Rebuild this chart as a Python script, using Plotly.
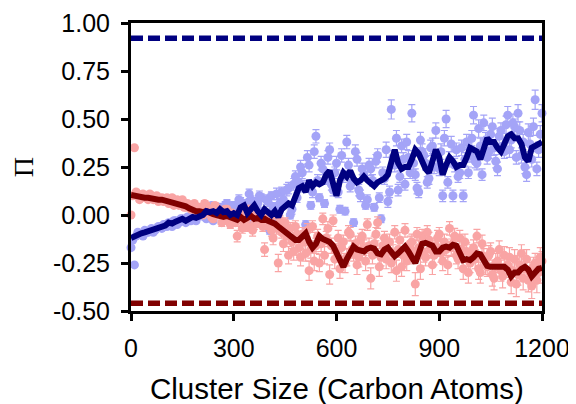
import plotly.graph_objects as go

# ---------------- data ----------------
line_x = list(range(0, 1201, 10))
blue_line = [
    -0.12, -0.11, -0.10, -0.095, -0.09, -0.085, -0.08, -0.075, -0.07, -0.06,
    -0.055, -0.04, -0.045, -0.035, -0.03, -0.02, -0.03, -0.02, -0.01, -0.015,
    -0.01, 0.0, 0.02, 0.015, 0.02, 0.01, 0.03, 0.015, 0.02, 0.0,
    0.01, 0.0, 0.04, 0.05, 0.01, 0.03, 0.05, 0.02, 0.0, 0.03,
    0.01, 0.0, 0.02, -0.01, 0.03, 0.05, 0.06, 0.05, 0.09, 0.14,
    0.15, 0.12, 0.18, 0.15, 0.17, 0.16, 0.17, 0.21, 0.23, 0.17,
    0.10, 0.18, 0.22, 0.20, 0.23, 0.19, 0.17, 0.18, 0.20, 0.18,
    0.16, 0.15, 0.17, 0.18, 0.19, 0.21, 0.27, 0.34, 0.27, 0.24,
    0.25, 0.25, 0.29, 0.34, 0.32, 0.27, 0.24, 0.22, 0.27, 0.34,
    0.30, 0.21, 0.26, 0.30, 0.28, 0.25, 0.26, 0.26, 0.30, 0.35,
    0.34, 0.33, 0.29, 0.35, 0.40, 0.38, 0.38, 0.35, 0.33, 0.37,
    0.41, 0.42, 0.40, 0.40, 0.37, 0.30, 0.28, 0.35, 0.36, 0.37,
    0.38,
]
red_line = [
    0.105, 0.10, 0.095, 0.095, 0.09, 0.09, 0.085, 0.085, 0.08, 0.08,
    0.075, 0.07, 0.07, 0.06, 0.055, 0.05, 0.045, 0.035, 0.025, 0.02,
    0.02, 0.015, 0.02, 0.01, 0.005, 0.0, -0.005, -0.01, -0.005, -0.01,
    -0.02, -0.025, -0.01, -0.025, -0.015, -0.005, -0.02, -0.015, -0.025, -0.02,
    -0.03, -0.035, -0.045, -0.06, -0.075, -0.085, -0.10, -0.12, -0.13, -0.13,
    -0.115, -0.095, -0.14, -0.17, -0.15, -0.11, -0.125, -0.13, -0.14, -0.16,
    -0.20, -0.24, -0.27, -0.23, -0.19, -0.165, -0.18, -0.185, -0.19, -0.175,
    -0.17, -0.175, -0.20, -0.205, -0.18, -0.17, -0.19, -0.215, -0.20, -0.18,
    -0.165, -0.19, -0.22, -0.25, -0.20, -0.15, -0.145, -0.15, -0.16, -0.19,
    -0.19, -0.17, -0.165, -0.17, -0.155, -0.16, -0.20, -0.235, -0.23, -0.235,
    -0.22, -0.20, -0.205, -0.24, -0.265, -0.27, -0.27, -0.275, -0.27, -0.27,
    -0.285, -0.32, -0.30, -0.30, -0.28, -0.27, -0.285, -0.32, -0.30, -0.28,
    -0.275,
]

# measured points, first set (x = 0, 10, ..., 1200)
pt_x_a = list(range(0, 1201, 10))
blue_pts_a = [
    -0.17, -0.26, -0.09, -0.10, -0.08, -0.09, -0.07, -0.08, -0.06, -0.07,
    -0.05, -0.04, -0.06, -0.03, -0.04, -0.02, -0.04, -0.01, -0.02, -0.03,
    0.00, 0.01, -0.02, 0.03, -0.03, 0.02, 0.04, 0.00, 0.06, 0.02,
    0.05, -0.01, 0.07, 0.04, -0.03, 0.08, 0.02, 0.06, 0.09, -0.05,
    0.07, 0.10, -0.02, 0.05, 0.12, -0.07, 0.14, 0.03, 0.20, 0.17,
    0.22, -0.05, 0.26, 0.12, 0.41, 0.09, 0.24, 0.19, 0.34, 0.13,
    0.27, 0.03, 0.20, 0.38, 0.15, -0.04, 0.29, 0.10, 0.21, 0.08,
    0.24, 0.04, 0.31, -0.02, 0.19, 0.07, 0.55, 0.26, 0.13, 0.36,
    0.16, 0.30, 0.53, 0.21, 0.12, 0.33, 0.27, 0.19, 0.36, 0.44,
    0.24, 0.10, 0.50, 0.29, 0.10, 0.34, 0.22, 0.10, 0.38, 0.31,
    0.52, 0.27, 0.36, 0.48, 0.30, 0.42, 0.35, 0.24, 0.44, 0.33,
    0.52, 0.39, 0.46, 0.53, 0.31, 0.25, 0.43, 0.29, 0.60, 0.34,
    0.53,
]
blue_err_a = [
    0.01, 0.01, 0.01, 0.01, 0.01, 0.01, 0.01, 0.01, 0.01, 0.01,
    0.01, 0.01, 0.01, 0.01, 0.01, 0.01, 0.01, 0.01, 0.01, 0.01,
    0.01, 0.01, 0.01, 0.015, 0.01, 0.015, 0.01, 0.015, 0.02, 0.01,
    0.02, 0.015, 0.02, 0.02, 0.015, 0.02, 0.02, 0.025, 0.02, 0.02,
    0.025, 0.02, 0.02, 0.03, 0.025, 0.02, 0.03, 0.025, 0.03, 0.03,
    0.03, 0.02, 0.035, 0.03, 0.035, 0.02, 0.03, 0.03, 0.035, 0.03,
    0.035, 0.02, 0.03, 0.035, 0.03, 0.02, 0.035, 0.03, 0.03, 0.025,
    0.035, 0.02, 0.035, 0.02, 0.03, 0.03, 0.05, 0.035, 0.03, 0.035,
    0.03, 0.035, 0.045, 0.03, 0.03, 0.04, 0.035, 0.03, 0.04, 0.04,
    0.035, 0.03, 0.045, 0.04, 0.03, 0.035, 0.03, 0.03, 0.04, 0.035,
    0.045, 0.035, 0.04, 0.04, 0.035, 0.045, 0.04, 0.035, 0.04, 0.035,
    0.045, 0.04, 0.04, 0.045, 0.04, 0.035, 0.045, 0.04, 0.05, 0.04,
    0.045,
]
red_pts_a = [
    0.00, 0.35, 0.11, 0.09, 0.10, 0.08, 0.10, 0.09, 0.07, 0.09,
    0.08, 0.06, 0.09, 0.07, 0.05, 0.08, 0.04, 0.05, 0.05, 0.01,
    0.04, 0.00, 0.05, 0.02, -0.02, 0.04, 0.00, -0.03, 0.03, -0.05,
    -0.01, -0.11, 0.02, -0.04, -0.06, 0.01, -0.05, -0.03, 0.00, -0.18,
    -0.05, -0.08, 0.00, -0.25, -0.09, -0.04, -0.21, -0.14, -0.06, -0.17,
    -0.10, -0.20, -0.29, -0.06, -0.16, -0.25, -0.02, -0.12, -0.31, -0.03,
    -0.19, -0.28, -0.14, -0.22, -0.10, -0.20, -0.26, -0.13, -0.17, -0.05,
    -0.33, -0.15, -0.04, -0.22, -0.12, -0.19, -0.25, -0.09, -0.18, -0.27,
    -0.08, -0.21, -0.14, -0.36, -0.17, -0.11, -0.22, -0.13, -0.26, -0.16,
    -0.10, -0.24, -0.18, -0.07, -0.15, -0.21, -0.12, -0.28, -0.19, -0.25,
    -0.17, -0.11, -0.30, -0.22, -0.27, -0.19, -0.33, -0.24, -0.29, -0.21,
    -0.26, -0.35, -0.23, -0.31, -0.20, -0.28, -0.34, -0.37, -0.25, -0.30,
    -0.24,
]
red_err_a = [
    0.01, 0.01, 0.01, 0.01, 0.01, 0.01, 0.01, 0.01, 0.01, 0.01,
    0.01, 0.01, 0.01, 0.01, 0.01, 0.01, 0.01, 0.01, 0.01, 0.01,
    0.01, 0.01, 0.015, 0.01, 0.015, 0.01, 0.015, 0.015, 0.01, 0.02,
    0.02, 0.03, 0.02, 0.02, 0.025, 0.02, 0.025, 0.02, 0.02, 0.035,
    0.025, 0.03, 0.02, 0.045, 0.03, 0.025, 0.045, 0.035, 0.03, 0.04,
    0.035, 0.04, 0.05, 0.03, 0.04, 0.045, 0.03, 0.035, 0.05, 0.03,
    0.04, 0.05, 0.035, 0.045, 0.035, 0.04, 0.05, 0.035, 0.04, 0.03,
    0.055, 0.04, 0.03, 0.045, 0.035, 0.04, 0.05, 0.035, 0.04, 0.05,
    0.035, 0.045, 0.04, 0.06, 0.04, 0.035, 0.045, 0.04, 0.05, 0.04,
    0.035, 0.05, 0.04, 0.035, 0.04, 0.045, 0.04, 0.055, 0.045, 0.05,
    0.04, 0.035, 0.055, 0.045, 0.05, 0.045, 0.06, 0.05, 0.055, 0.045,
    0.05, 0.06, 0.05, 0.055, 0.045, 0.055, 0.06, 0.065, 0.05, 0.055,
    0.05,
]

# measured points, second set (x = 5, 15, ..., 1195)
pt_x_b = list(range(5, 1200, 10))
blue_pts_b = [
    -0.13, -0.11, -0.10, -0.11, -0.09, -0.08, -0.09, -0.07, -0.06, -0.05,
    -0.06, -0.05, -0.03, -0.05, -0.02, -0.03, -0.01, -0.03, 0.00, -0.01,
    0.02, -0.01, 0.03, 0.05, 0.01, 0.04, 0.02, 0.05, -0.01, 0.04,
    0.03, 0.08, 0.00, 0.06, 0.11, 0.04, 0.07, 0.10, 0.02, 0.08,
    -0.08, 0.04, 0.11, 0.06, 0.08, 0.13, 0.00, 0.16, 0.09, 0.25,
    0.15, 0.30, 0.05, 0.33, 0.18, 0.27, 0.06, 0.30, 0.16, 0.22,
    0.12, 0.31, 0.02, 0.26, 0.17, 0.33, 0.13, 0.24, 0.05, 0.26,
    0.18, 0.28, 0.09, 0.22, 0.34, 0.12, 0.30, 0.40, 0.20, 0.29,
    0.38, 0.22, 0.27, 0.14, 0.39, 0.31, 0.17, 0.35, 0.25, 0.30,
    0.33, 0.40, 0.17, 0.37, 0.26, 0.20, 0.35, 0.29, 0.22, 0.40,
    0.28, 0.45, 0.21, 0.39, 0.33, 0.46, 0.28, 0.41, 0.36, 0.47,
    0.34, 0.48, 0.30, 0.44, 0.38, 0.21, 0.37, 0.46, 0.24, 0.42,
]
blue_err_b = [
    0.01, 0.01, 0.01, 0.01, 0.01, 0.01, 0.01, 0.01, 0.01, 0.01,
    0.01, 0.01, 0.01, 0.01, 0.01, 0.01, 0.01, 0.01, 0.01, 0.01,
    0.01, 0.015, 0.01, 0.015, 0.01, 0.015, 0.015, 0.02, 0.01, 0.015,
    0.02, 0.025, 0.015, 0.02, 0.025, 0.02, 0.02, 0.025, 0.02, 0.025,
    0.02, 0.025, 0.03, 0.025, 0.03, 0.03, 0.02, 0.03, 0.025, 0.035,
    0.03, 0.035, 0.02, 0.035, 0.03, 0.035, 0.02, 0.035, 0.03, 0.03,
    0.03, 0.035, 0.02, 0.035, 0.03, 0.035, 0.03, 0.03, 0.02, 0.035,
    0.03, 0.035, 0.025, 0.03, 0.04, 0.03, 0.035, 0.04, 0.03, 0.035,
    0.04, 0.03, 0.035, 0.03, 0.04, 0.035, 0.03, 0.04, 0.035, 0.035,
    0.04, 0.04, 0.03, 0.04, 0.035, 0.03, 0.04, 0.035, 0.03, 0.04,
    0.035, 0.045, 0.03, 0.04, 0.035, 0.045, 0.035, 0.04, 0.04, 0.045,
    0.04, 0.045, 0.035, 0.045, 0.04, 0.035, 0.04, 0.045, 0.035, 0.045,
]
red_pts_b = [
    0.10, 0.12, 0.08, 0.11, 0.09, 0.11, 0.08, 0.10, 0.08, 0.07,
    0.09, 0.07, 0.05, 0.08, 0.06, 0.04, 0.06, 0.03, 0.06, 0.04,
    0.01, 0.06, 0.03, -0.01, 0.05, 0.02, -0.04, 0.03, -0.02, 0.01,
    -0.04, 0.00, -0.07, -0.02, 0.03, -0.08, -0.01, -0.04, -0.06, -0.02,
    -0.01, -0.12, -0.07, -0.03, -0.15, -0.11, -0.07, -0.19, -0.10, -0.22,
    -0.14, -0.08, -0.18, -0.24, -0.11, -0.15, -0.21, -0.07, -0.16, -0.23,
    -0.12, -0.17, -0.25, -0.09, -0.18, -0.15, -0.22, -0.11, -0.24, -0.16,
    -0.21, -0.10, -0.27, -0.16, -0.23, -0.14, -0.20, -0.29, -0.13, -0.21,
    -0.24, -0.15, -0.19, -0.10, -0.28, -0.20, -0.09, -0.18, -0.21, -0.12,
    -0.20, -0.14, -0.26, -0.17, -0.11, -0.23, -0.18, -0.14, -0.30, -0.20,
    -0.23, -0.28, -0.15, -0.26, -0.21, -0.31, -0.25, -0.18, -0.32, -0.27,
    -0.22, -0.29, -0.36, -0.26, -0.33, -0.23, -0.30, -0.27, -0.34, -0.22,
]
red_err_b = [
    0.01, 0.01, 0.01, 0.01, 0.01, 0.01, 0.01, 0.01, 0.01, 0.01,
    0.01, 0.01, 0.01, 0.01, 0.01, 0.01, 0.01, 0.01, 0.01, 0.01,
    0.01, 0.015, 0.01, 0.015, 0.015, 0.01, 0.02, 0.015, 0.015, 0.01,
    0.02, 0.02, 0.025, 0.02, 0.02, 0.03, 0.02, 0.025, 0.025, 0.02,
    0.02, 0.035, 0.03, 0.025, 0.04, 0.035, 0.03, 0.045, 0.035, 0.045,
    0.04, 0.035, 0.045, 0.05, 0.035, 0.04, 0.045, 0.035, 0.04, 0.05,
    0.04, 0.045, 0.05, 0.035, 0.045, 0.04, 0.05, 0.035, 0.05, 0.04,
    0.045, 0.035, 0.05, 0.04, 0.05, 0.04, 0.045, 0.055, 0.04, 0.045,
    0.05, 0.04, 0.045, 0.035, 0.055, 0.045, 0.035, 0.045, 0.05, 0.04,
    0.045, 0.04, 0.05, 0.045, 0.04, 0.05, 0.045, 0.04, 0.055, 0.045,
    0.05, 0.055, 0.045, 0.05, 0.05, 0.06, 0.05, 0.045, 0.06, 0.055,
    0.05, 0.055, 0.065, 0.05, 0.06, 0.05, 0.055, 0.05, 0.065, 0.05,
]

ref_x = [0, 1200]
blue_ref = [0.92, 0.92]
red_ref = [-0.46, -0.46]

x_ticks = [0, 300, 600, 900, 1200]
x_tick_text = ["0", "300", "600", "900", "1200"]
y_ticks = [-0.5, -0.25, 0.0, 0.25, 0.5, 0.75, 1.0]
y_tick_text = ["-0.50", "-0.25", "0.00", "0.25", "0.50", "0.75", "1.00"]
x_title = "Cluster Size (Carbon Atoms)"
y_title = "Π"

# ---------------- styles ----------------
BLUE_PT = "#a4a4f7"
RED_PT = "#f9a4a4"
NAVY = "#000080"
MAROON = "#800000"
FONT = "Liberation Sans, Arial, sans-serif"

fig = go.Figure()

fig.add_trace(go.Scatter(
    x=pt_x_a + pt_x_b, y=blue_pts_a + blue_pts_b, mode="markers", cliponaxis=False,
    marker=dict(color=BLUE_PT, size=9),
    error_y=dict(type="data", array=blue_err_a + blue_err_b, color=BLUE_PT,
                 thickness=1.2, width=3.5),
))
fig.add_trace(go.Scatter(
    x=pt_x_a + pt_x_b, y=red_pts_a + red_pts_b, mode="markers", cliponaxis=False,
    marker=dict(color=RED_PT, size=9),
    error_y=dict(type="data", array=red_err_a + red_err_b, color=RED_PT,
                 thickness=1.2, width=3.5),
))
fig.add_trace(go.Scatter(
    x=line_x, y=red_line, mode="lines", line=dict(color=MAROON, width=6),
))
fig.add_trace(go.Scatter(
    x=line_x, y=blue_line, mode="lines", line=dict(color=NAVY, width=6),
))
fig.add_trace(go.Scatter(
    x=ref_x, y=blue_ref, mode="lines", cliponaxis=False,
    line=dict(color=NAVY, width=5.5, dash="12px,5px"),
))
fig.add_trace(go.Scatter(
    x=ref_x, y=red_ref, mode="lines", cliponaxis=False,
    line=dict(color=MAROON, width=5.5, dash="12px,5px"),
))

axis_common = dict(
    showgrid=False, zeroline=False, showline=True, linecolor="black",
    linewidth=3, mirror=True, ticks="outside", ticklen=7, tickwidth=3,
    tickcolor="black", automargin=False,
    tickfont=dict(family=FONT, size=25, color="black"),
)

# the page body adds an 8px offset, so the figure is 8px smaller and margins shifted
fig.update_layout(
    width=568, height=396,
    margin=dict(l=123, r=34, t=15, b=93, pad=0),
    paper_bgcolor="white", plot_bgcolor="white",
    showlegend=False,
    xaxis=dict(range=[0, 1200], tickvals=x_ticks, ticktext=x_tick_text,
               ticklabelstandoff=6, **axis_common),
    yaxis=dict(range=[-0.5, 1.0], tickvals=y_ticks, ticktext=y_tick_text,
               ticklabelstandoff=6, **axis_common),
    annotations=[
        dict(text=x_title, xref="paper", yref="paper", x=0.502, y=-0.269,
             xanchor="center", yanchor="middle", showarrow=False,
             font=dict(family=FONT, size=29.5, color="black")),
        dict(text=y_title, xref="paper", yref="paper", x=-0.262, y=0.50,
             xanchor="center", yanchor="middle", showarrow=False, textangle=-90,
             font=dict(family="Liberation Serif, Times New Roman, serif", size=28, color="black")),
    ],
)

fig.write_html("out.html")
